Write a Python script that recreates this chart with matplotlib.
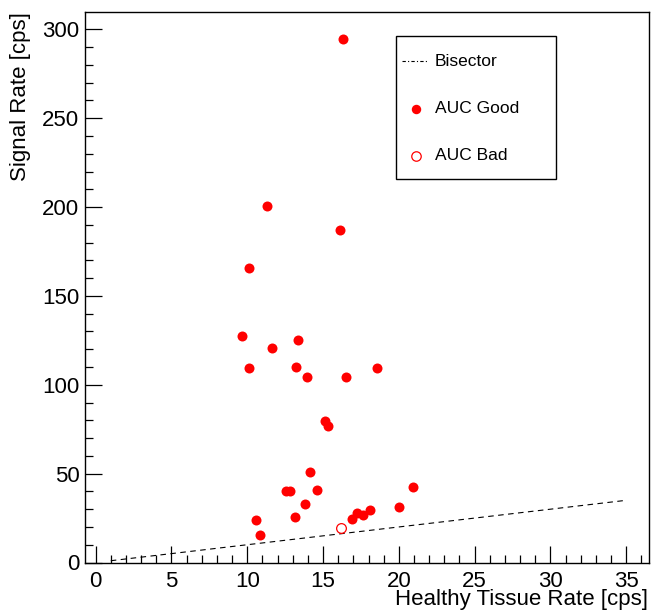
import numpy as np
import matplotlib
matplotlib.use('Agg')
import matplotlib.pyplot as plt
from matplotlib.ticker import MultipleLocator
from matplotlib.lines import Line2D
from matplotlib.patches import Rectangle

plt.rcParams['font.family'] = ['Liberation Sans', 'DejaVu Sans']

# AUC good points (healthy tissue rate, signal rate)
good_healthy = [16.32, 11.32, 16.12, 10.13, 9.63, 11.63, 13.33, 10.13, 13.23, 13.92,
                16.51, 18.54, 15.11, 15.33, 14.14, 12.55, 12.82, 14.62, 13.83, 13.15,
                10.55, 10.84, 16.93, 17.22, 17.62, 18.12, 20.01, 20.92]
good_signal = [294.6, 200.5, 187.1, 165.8, 127.6, 120.5, 125.0, 109.3, 110.3, 104.2,
               104.2, 109.7, 79.8, 76.7, 51.0, 40.0, 40.0, 40.6, 33.2, 25.5,
               23.8, 15.5, 24.4, 27.8, 26.7, 29.3, 31.5, 42.7]

# AUC bad points
bad_healthy = [16.16]
bad_signal = [19.5]

# bisector y = x
bis_x = [1, 35]

W, H = 652, 610
fig = plt.figure(figsize=(W / 100, H / 100), dpi=100)
ax = fig.add_axes([85 / W, (H - 562.5) / H, (649 - 85) / W, (562.5 - 12) / H])

ax.plot(bis_x, bis_x, color='black', lw=0.8, dashes=(5, 4))
ax.plot(good_healthy, good_signal, 'o', color='red', ms=7.2, mec='red', mew=0)
ax.plot(bad_healthy, bad_signal, 'o', mfc='none', mec='red', ms=7.0, mew=0.9)

ax.set_xlim(-0.7, 36.5)
ax.set_ylim(0, 309.8)

ax.xaxis.set_major_locator(MultipleLocator(5))
ax.xaxis.set_minor_locator(MultipleLocator(1))
ax.yaxis.set_major_locator(MultipleLocator(50))
ax.yaxis.set_minor_locator(MultipleLocator(10))
ax.tick_params(which='both', direction='in', top=False, right=False, width=0.9,
               labelsize=16)
ax.tick_params(which='major', length=12.2)
ax.tick_params(which='minor', length=5.8)
ax.tick_params(axis='x', pad=6)
ax.tick_params(axis='y', pad=4)
for s in ax.spines.values():
    s.set_linewidth(1.0)

fig.text(648 / W, 1 - 605 / H, 'Healthy Tissue Rate [cps]', ha='right', va='baseline',
         fontsize=16)
fig.text(21 / W, 1 - 12 / H, 'Signal Rate [cps]', ha='center', va='top',
         rotation=90, fontsize=16)

# legend box
def fx(px):
    return px / W

def fy(py):
    return 1 - py / H

fig.patches.append(Rectangle((fx(396), fy(179)), fx(556) - fx(396), fy(36) - fy(179),
                             transform=fig.transFigure, fill=True, facecolor='white',
                             edgecolor='black', lw=1.0, zorder=5))
fig.lines.append(Line2D([fx(402), fx(428)], [fy(61), fy(61)], transform=fig.transFigure,
                        color='black', lw=0.8, dashes=(3, 2, 1, 2), zorder=6))
fig.lines.append(Line2D([fx(415.5)], [fy(108.5)], transform=fig.transFigure, marker='o',
                        color='red', ms=6.8, mew=0, zorder=6))
fig.lines.append(Line2D([fx(415.5)], [fy(156)], transform=fig.transFigure, marker='o',
                        mfc='none', mec='red', ms=6.8, mew=0.9, zorder=6))
for label, py in [('Bisector', 61), ('AUC Good', 108.5), ('AUC Bad', 156)]:
    fig.text(fx(435), fy(py), label, ha='left', va='center', fontsize=12.5, zorder=7)

fig.savefig('out.png', dpi=100)
